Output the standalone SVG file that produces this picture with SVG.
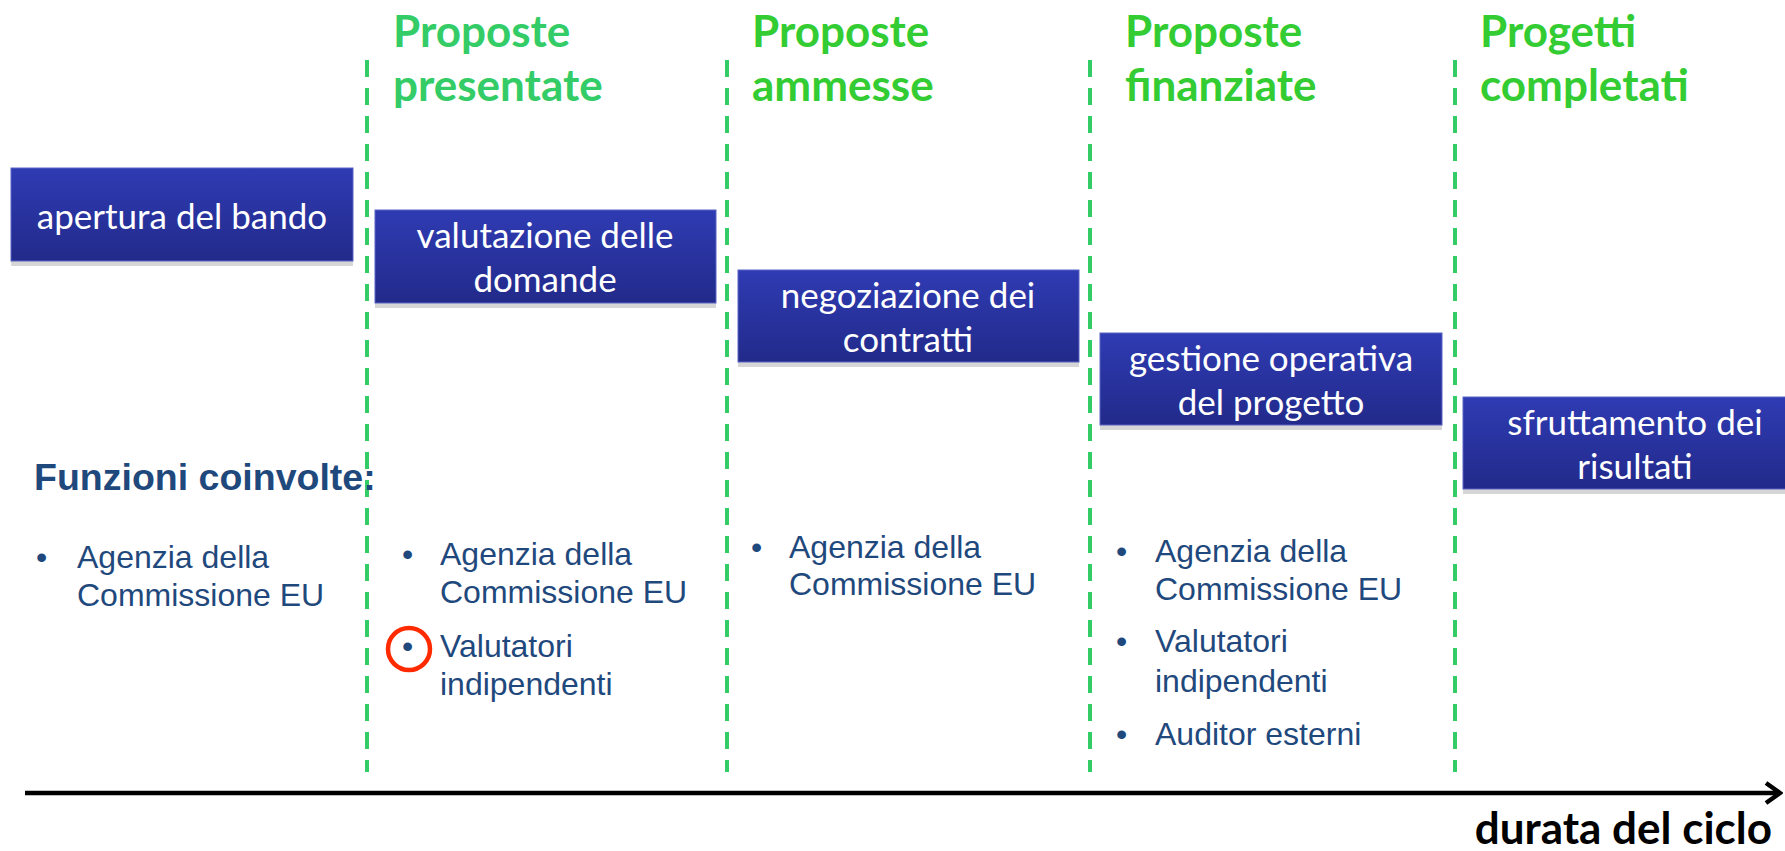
<svg xmlns="http://www.w3.org/2000/svg" width="1785" height="851" viewBox="0 0 1785 851">
<defs>
<linearGradient id="boxg" x1="0" y1="0" x2="0" y2="1">
<stop offset="0" stop-color="#2f3bb3"/>
<stop offset="1" stop-color="#222a8a"/>
</linearGradient>
<marker id="arr" viewBox="0 0 20 24" refX="17" refY="12" markerWidth="20" markerHeight="24" markerUnits="userSpaceOnUse" orient="auto">
<path d="M3 2 L17 12 L3 22" fill="none" stroke="#000" stroke-width="4.5"/>
</marker>
</defs>
<style>
.box{fill:url(#boxg);stroke:#5a64c4;stroke-width:1}
.shadow{fill:#d6d6d6}
.bt{font-family:Lato,"Open Sans",sans-serif;font-size:35px;fill:#fff;text-anchor:middle}
.hd{font-family:Lato,"Open Sans",sans-serif;font-weight:bold;font-size:44px}
.h1{fill:#33cc66}
.h2{fill:#33cc33}
.dash{stroke:#33cc66;stroke-width:4;stroke-dasharray:17 11;fill:none}
.li{font-family:"Liberation Sans",Arial,sans-serif;font-size:32px;fill:#1f497d}
.fc{font-family:"Liberation Sans",Arial,sans-serif;font-size:37.5px;font-weight:bold;fill:#1f497d}
.ax{font-family:Lato,"Open Sans",sans-serif;font-weight:bold;font-size:44px;fill:#000;text-anchor:end}
</style>
<rect width="1785" height="851" fill="#fff"/>
<g id="connectors">
<line class="dash" x1="367" y1="60" x2="367" y2="772"/>
<line class="dash" x1="727" y1="60" x2="727" y2="772"/>
<line class="dash" x1="1090" y1="60" x2="1090" y2="772"/>
<line class="dash" x1="1455" y1="60" x2="1455" y2="772"/>
<line x1="25" y1="793" x2="1780" y2="793" stroke="#000" stroke-width="4.5" marker-end="url(#arr)"/>
</g>
<g id="headings">
<text class="hd h1" x="393" y="47">Proposte</text>
<text class="hd h1" x="393" y="101">presentate</text>
<text class="hd h2" x="752" y="47">Proposte</text>
<text class="hd h2" x="752" y="101">ammesse</text>
<text class="hd h2" x="1125" y="47">Proposte</text>
<text class="hd h2" x="1125" y="101">finanziate</text>
<text class="hd h2" x="1480" y="47">Progetti</text>
<text class="hd h2" x="1480" y="101">completati</text>
</g>
<g id="n1">
<rect class="shadow" x="11" y="168" width="342" height="98"/>
<rect class="box" x="11" y="168" width="342" height="93"/>
<text class="bt" x="182" y="229">apertura del bando</text>
</g>
<g id="n2">
<rect class="shadow" x="375" y="210" width="341" height="98"/>
<rect class="box" x="375" y="210" width="341" height="93"/>
<text class="bt" x="545" y="248">valutazione delle</text>
<text class="bt" x="545" y="292">domande</text>
</g>
<g id="n3">
<rect class="shadow" x="738" y="270" width="341" height="97"/>
<rect class="box" x="738" y="270" width="341" height="92"/>
<text class="bt" x="908" y="308">negoziazione dei</text>
<text class="bt" x="908" y="352">contratti</text>
</g>
<g id="n4">
<rect class="shadow" x="1100" y="333" width="342" height="97"/>
<rect class="box" x="1100" y="333" width="342" height="92"/>
<text class="bt" x="1271" y="371">gestione operativa</text>
<text class="bt" x="1271" y="415">del progetto</text>
</g>
<g id="n5">
<rect class="shadow" x="1463" y="397" width="330" height="97"/>
<rect class="box" x="1463" y="397" width="330" height="92"/>
<text class="bt" x="1635" y="435">sfruttamento dei</text>
<text class="bt" x="1635" y="479">risultati</text>
</g>
<g id="funzioni">
<text class="fc" x="34" y="490">Funzioni coinvolte:</text>
</g>
<g id="col1">
<text class="li" x="36" y="568">•</text>
<text class="li" x="77" y="568">Agenzia della</text>
<text class="li" x="77" y="606">Commissione EU</text>
</g>
<g id="col2">
<text class="li" x="402" y="565">•</text>
<text class="li" x="440" y="565">Agenzia della</text>
<text class="li" x="440" y="603">Commissione EU</text>
<text class="li" x="402" y="657">•</text>
<text class="li" x="440" y="657">Valutatori</text>
<text class="li" x="440" y="695">indipendenti</text>
<circle cx="409" cy="649" r="21" fill="none" stroke="#ff2a00" stroke-width="4.5"/>
</g>
<g id="col3">
<text class="li" x="751" y="558">•</text>
<text class="li" x="789" y="558">Agenzia della</text>
<text class="li" x="789" y="595">Commissione EU</text>
</g>
<g id="col4">
<text class="li" x="1116" y="562">•</text>
<text class="li" x="1155" y="562">Agenzia della</text>
<text class="li" x="1155" y="600">Commissione EU</text>
<text class="li" x="1116" y="652">•</text>
<text class="li" x="1155" y="652">Valutatori</text>
<text class="li" x="1155" y="692">indipendenti</text>
<text class="li" x="1116" y="745">•</text>
<text class="li" x="1155" y="745">Auditor esterni</text>
</g>
<g id="axis-label">
<text class="ax" x="1772" y="844">durata del ciclo</text>
</g>
</svg>
